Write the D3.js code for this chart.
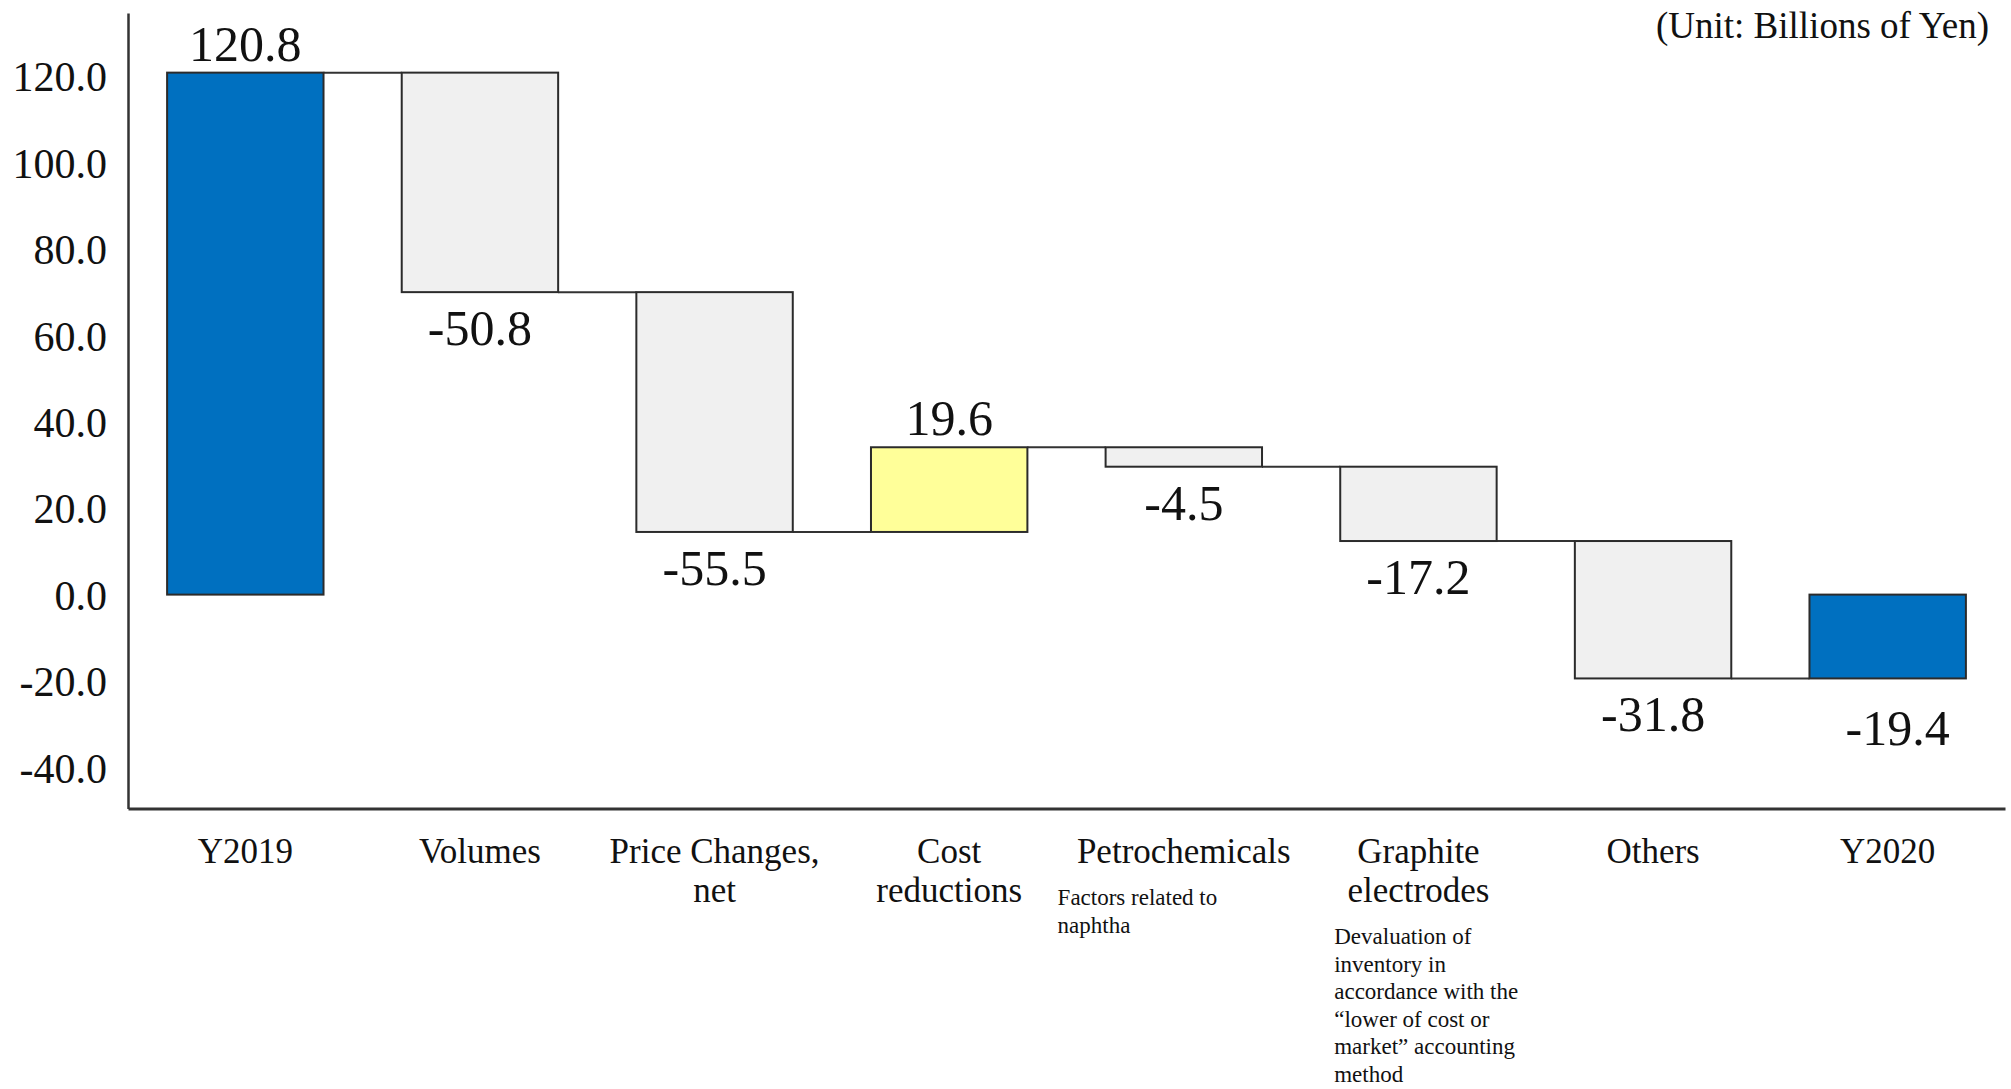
<!DOCTYPE html>
<html>
<head>
<meta charset="utf-8">
<script src="https://cdn.jsdelivr.net/npm/d3@7"></script>
<style>
  body { margin: 0; background: #fff; }
  text { font-family: "Liberation Serif", "Times New Roman", serif; fill: #111; }
</style>
</head>
<body>
<svg id="chart" width="2011" height="1089"></svg>
<script>
// Operating income bridge, Y2019 -> Y2020 (billions of yen)
const categories = ["Y2019", "Volumes", "Price Changes, net", "Cost reductions",
                    "Petrochemicals", "Graphite electrodes", "Others", "Y2020"];
const categoryLines = [["Y2019"], ["Volumes"], ["Price Changes,", "net"], ["Cost", "reductions"],
                       ["Petrochemicals"], ["Graphite", "electrodes"], ["Others"], ["Y2020"]];
const changes = [120.8, -50.8, -55.5, 19.6, -4.5, -17.2, -31.8, -19.4];
const kinds = ["total", "decrease", "decrease", "increase", "decrease", "decrease", "decrease", "total"];
const yTicks = [-40, -20, 0, 20, 40, 60, 80, 100, 120];
const noteCategories = ["Petrochemicals", "Graphite electrodes"];
const noteLines = [
  ["Factors related to", "naphtha"],
  ["Devaluation of", "inventory in", "accordance with the", "\u201clower of cost or", "market\u201d accounting", "method"]
];
const unitLabel = "(Unit: Billions of Yen)";

// layout
const plotLeft = 128, plotRight = 2005, plotTop = 13, plotBottom = 808.5;
const noteShift = { "Petrochemicals": -48, "Graphite electrodes": -6 };
const fills = { total: "#0070C0", decrease: "#F0F0F0", increase: "#FFFF99" };

const svg = d3.select("#chart");

const x = d3.scaleBand()
  .domain(categories)
  .range([plotLeft, plotRight])
  .paddingInner(1 / 3)
  .paddingOuter(1 / 6);

const y = d3.scaleLinear()
  .domain([-49.5, 134.6])
  .range([plotBottom, plotTop]);

// running totals for the waterfall
let level = 0;
const bars = categories.map((c, i) => {
  let start, end;
  if (kinds[i] === "total") { start = 0; end = changes[i]; }
  else { start = level; end = level + changes[i]; }
  level = end;
  return { cat: c, kind: kinds[i], value: changes[i], start, end,
           lo: Math.min(start, end), hi: Math.max(start, end) };
});

// connectors between consecutive bars
svg.append("g").selectAll("line")
  .data(bars.slice(0, -1))
  .join("line")
  .attr("x1", d => x(d.cat) + x.bandwidth())
  .attr("x2", (d, i) => x(bars[i + 1].cat))
  .attr("y1", d => y(d.end))
  .attr("y2", d => y(d.end))
  .attr("stroke", "#333")
  .attr("stroke-width", 2);

// bars
svg.append("g").selectAll("rect")
  .data(bars)
  .join("rect")
  .attr("x", d => x(d.cat))
  .attr("width", x.bandwidth())
  .attr("y", d => y(d.hi))
  .attr("height", d => y(d.lo) - y(d.hi))
  .attr("fill", d => fills[d.kind])
  .attr("stroke", "#2b2b2b")
  .attr("stroke-width", 2);

// value labels
svg.append("g").selectAll("text")
  .data(bars)
  .join("text")
  .attr("text-anchor", "middle")
  .attr("font-size", 50)
  .attr("x", d => x(d.cat) + x.bandwidth() / 2 + (d.kind === "total" && d.value < 0 ? 10 : 0))
  .attr("y", d => d.value >= 0 ? y(d.hi) - 12 : y(d.lo) + (d.kind === "total" ? 67 : 53))
  .text(d => d.value.toFixed(1));

// y axis
const yAxis = svg.append("g")
  .attr("transform", `translate(${plotLeft},0)`)
  .call(d3.axisLeft(y).tickValues(yTicks).tickSize(0).tickPadding(21)
        .tickFormat(v => v.toFixed(1)));
yAxis.select(".domain").attr("stroke", "#333").attr("stroke-width", 2.5);
yAxis.selectAll("text")
  .attr("font-size", 42)
  .attr("dy", "0.35em");

// x axis
const xAxis = svg.append("g")
  .attr("transform", `translate(0,${plotBottom})`)
  .call(d3.axisBottom(x).tickSize(0).tickFormat(""));
xAxis.select(".domain").attr("stroke", "#333").attr("stroke-width", 3);
xAxis.selectAll("text").remove();

// category labels
const catLineHeight = 39, catBaseline = 863;
const catG = svg.append("g");
categories.forEach((c, i) => {
  const t = catG.append("text")
    .attr("text-anchor", "middle")
    .attr("font-size", 35);
  categoryLines[i].forEach((line, j) => {
    t.append("tspan")
      .attr("x", x(c) + x.bandwidth() / 2)
      .attr("y", catBaseline + j * catLineHeight)
      .text(line);
  });
});

// explanatory notes under selected categories
const noteLineHeight = 27.6;
const noteG = svg.append("g");
noteCategories.forEach((c, k) => {
  const i = categories.indexOf(c);
  const firstBaseline = catBaseline + (categoryLines[i].length - 1) * catLineHeight + 42;
  const t = noteG.append("text").attr("font-size", 23);
  noteLines[k].forEach((line, j) => {
    t.append("tspan")
      .attr("x", x(c) + noteShift[c])
      .attr("y", firstBaseline + j * noteLineHeight)
      .text(line);
  });
});

// unit label
svg.append("text")
  .attr("x", 1989)
  .attr("y", 38)
  .attr("text-anchor", "end")
  .attr("font-size", 37)
  .text(unitLabel);
</script>
</body>
</html>
